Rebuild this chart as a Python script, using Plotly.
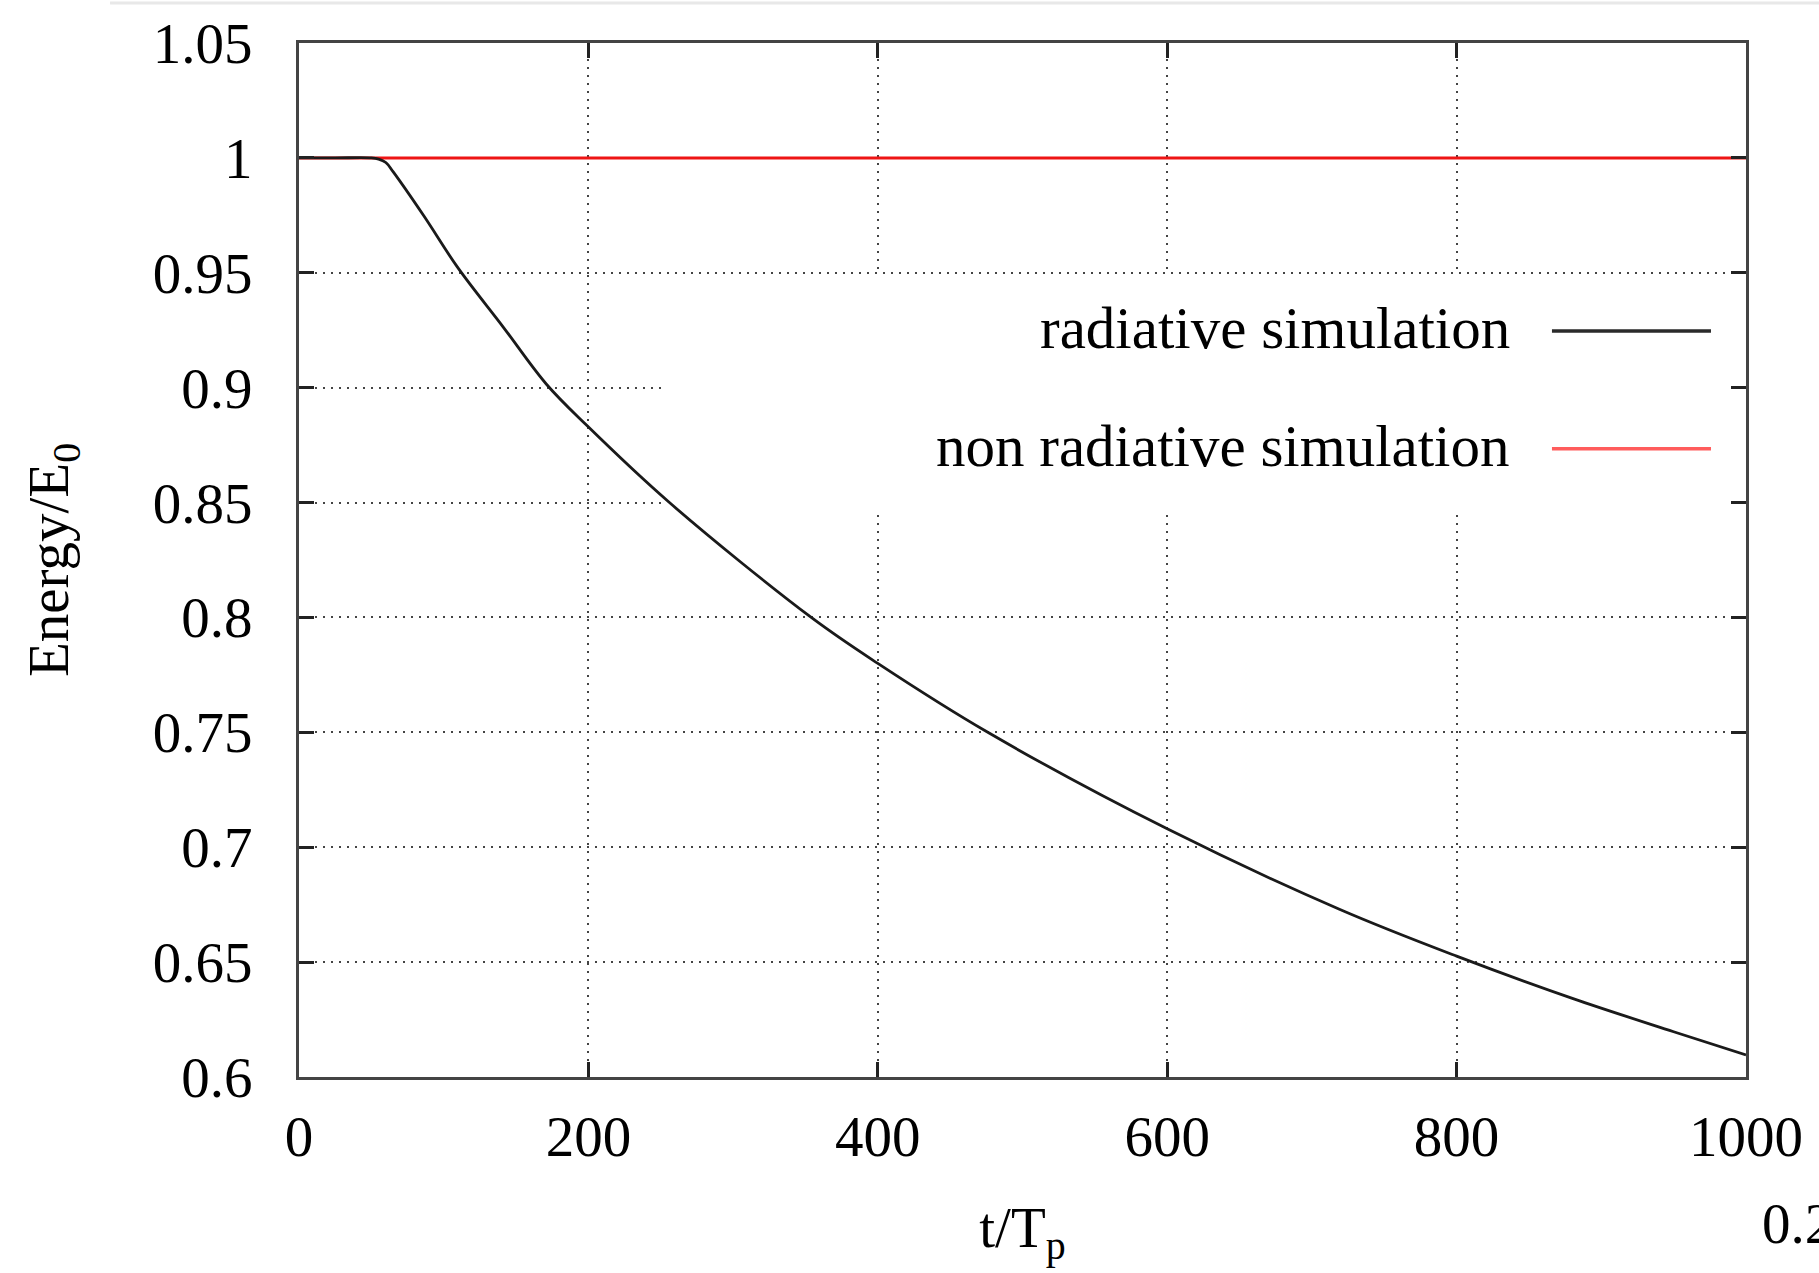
import plotly.graph_objects as go

# ---- data ----
t_rad = [0, 25, 50, 55, 60, 65, 86, 110, 141, 171, 199, 256, 354, 400, 476,
         600, 719, 800, 881, 950, 1000]
e_rad = [1.0, 1.0, 1.0, 0.9995, 0.998, 0.994, 0.975, 0.952, 0.9265, 0.9015, 0.8835,
         0.850, 0.800, 0.780, 0.750, 0.708, 0.673, 0.6526, 0.634, 0.6197, 0.6096]

t_nonrad = [0, 250, 500, 750, 1000]
e_nonrad = [1.0, 1.0, 1.0, 1.0, 1.0]

x_ticks = [0, 200, 400, 600, 800, 1000]
x_ticktext = ["0", "200", "400", "600", "800", "1000"]
y_ticks = [0.6, 0.65, 0.7, 0.75, 0.8, 0.85, 0.9, 0.95, 1.0, 1.05]
y_ticktext = ["0.6", "0.65", "0.7", "0.75", "0.8", "0.85", "0.9", "0.95", "1", "1.05"]

series_names = ["radiative simulation", "non radiative simulation"]
series_colors = ["#1a1a1a", "#ee1515"]
key_sample_colors = ["#2a2a2a", "#ff5c5c"]

FONT = "Liberation Serif"
FS = 57

fig = go.Figure()
fig.add_trace(go.Scatter(x=t_nonrad, y=e_nonrad, mode="lines", name=series_names[1],
                         line=dict(color=series_colors[1], width=3), showlegend=False))
fig.add_trace(go.Scatter(x=t_rad, y=e_rad, mode="lines", name=series_names[0],
                         line=dict(color=series_colors[0], width=2.8, shape="spline",
                                   smoothing=1.0),
                         showlegend=False))

axis_common = dict(
    showline=True, mirror="allticks", linecolor="#444", linewidth=3,
    ticks="inside", ticklen=15, tickwidth=3, tickcolor="#222",
    showgrid=True, gridcolor="#444", gridwidth=1.5, griddash="2px,6px",
    zeroline=False,
    tickfont=dict(family=FONT, size=FS, color="black"),
)

fig.update_xaxes(range=[0, 1000], tickvals=x_ticks, ticktext=x_ticktext,
                 ticklabelstandoff=8,
                 title=dict(text="t/T<sub>p</sub>", font=dict(family=FONT, size=FS, color="black"),
                            standoff=40),
                 **axis_common)
fig.update_yaxes(range=[0.6, 1.05], tickvals=y_ticks, ticktext=y_ticktext,
                 ticklabelstandoff=32,
                 title=dict(text="Energy/E<sub>0</sub>", font=dict(family=FONT, size=FS, color="black"),
                            standoff=66),
                 **axis_common)

# key area (blank box erasing grid lines behind the key)
fig.add_shape(type="rect", xref="x", yref="y", x0=254, x1=1000, y0=0.846, y1=0.949,
              fillcolor="white", line=dict(width=0), layer="between")

# key entries (text left of sample, gnuplot style)
key_y = [0.7245, 0.6105]
for name, col, yy in zip(series_names, key_sample_colors, key_y):
    fig.add_annotation(xref="paper", yref="paper", x=0.8383, y=yy, text=name,
                       showarrow=False, xanchor="right", yanchor="middle",
                       font=dict(family=FONT, size=59, color="black"))
    fig.add_shape(type="line", xref="paper", yref="paper", x0=0.8659, x1=0.9758,
                  y0=yy - 0.003, y1=yy - 0.003, line=dict(color=col, width=3.5))

# partially visible text at lower right
fig.add_annotation(xref="paper", yref="paper", x=1.0097, y=-0.142, text="0.2",
                   showarrow=False, xanchor="left", yanchor="middle",
                   font=dict(family=FONT, size=FS, color="black"))

# faint top border line of the page
fig.add_shape(type="line", xref="paper", yref="paper", x0=-0.1306, x1=1.1,
              y0=1.0386, y1=1.0386, line=dict(color="#e8e8e8", width=3))

fig.update_layout(
    width=1819, height=1273,
    margin=dict(l=299, r=73, t=41, b=196),
    paper_bgcolor="white", plot_bgcolor="white",
    showlegend=False,
)

fig.write_html("out.html")
